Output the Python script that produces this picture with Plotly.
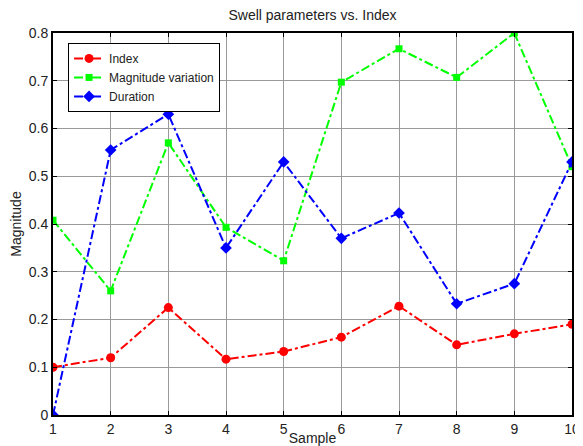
import plotly.graph_objects as go

samples = [1, 2, 3, 4, 5, 6, 7, 8, 9, 10]
index_vals = [0.100, 0.120, 0.225, 0.117, 0.133, 0.163, 0.228, 0.147, 0.170, 0.190]
magvar_vals = [0.408, 0.260, 0.570, 0.393, 0.323, 0.697, 0.767, 0.707, 0.800, 0.520]
duration_vals = [0.000, 0.555, 0.630, 0.350, 0.530, 0.370, 0.423, 0.233, 0.275, 0.530]
y_ticks = [0, 0.1, 0.2, 0.3, 0.4, 0.5, 0.6, 0.7, 0.8]
y_tick_text = ["0", "0.1", "0.2", "0.3", "0.4", "0.5", "0.6", "0.7", "0.8"]

fig = go.Figure()
fig.add_trace(go.Scatter(x=samples, y=index_vals, name="Index", mode="lines+markers",
                         line=dict(color="#ff0000", width=2, dash="dashdot"),
                         marker=dict(symbol="circle", size=9, color="#ff0000")))
fig.add_trace(go.Scatter(x=samples, y=magvar_vals, name="Magnitude variation", mode="lines+markers",
                         line=dict(color="#00ff00", width=2, dash="dashdot"),
                         marker=dict(symbol="square", size=7, color="#00ff00")))
fig.add_trace(go.Scatter(x=samples, y=duration_vals, name="Duration", mode="lines+markers",
                         line=dict(color="#0000ff", width=2, dash="dashdot"),
                         marker=dict(symbol="diamond", size=9, color="#0000ff")))

# The page body has an 8px margin, so the figure is drawn offset by 8px.
fig.update_layout(
    width=575, height=438,
    margin=dict(l=45, r=11, t=25, b=31),
    paper_bgcolor="white", plot_bgcolor="white",
    font=dict(family="Liberation Sans, Arial", size=12, color="#222222"),
    title=dict(text="Swell parameters vs. Index", x=0.5, xref="paper", xanchor="center",
               yref="container", y=0.984, yanchor="middle",
               font=dict(size=14, color="#222222")),
    legend=dict(x=0.029, y=0.974, xanchor="left", yanchor="top", bgcolor="white",
                bordercolor="black", borderwidth=1, font=dict(size=12, color="#222222"),
                itemwidth=30, tracegroupgap=0),
    xaxis=dict(range=[1, 10], tickvals=samples, showgrid=True, gridcolor="#9a9a9a", gridwidth=1,
               showline=True, linecolor="black", linewidth=2, mirror="ticks",
               ticks="inside", ticklen=4, tickcolor="black", zeroline=False,
               automargin=False,
               tickfont=dict(size=14, color="#222222"),
               title=dict(text="Sample", standoff=6, font=dict(size=14, color="#222222"))),
    yaxis=dict(range=[0, 0.8], tickvals=y_ticks, ticktext=y_tick_text, showgrid=True,
               gridcolor="#9a9a9a", gridwidth=1,
               showline=True, linecolor="black", linewidth=2, mirror="ticks",
               ticks="inside", ticklen=4, tickcolor="black", zeroline=False,
               automargin=False,
               tickfont=dict(size=14, color="#222222"),
               title=dict(text="Magnitude", standoff=4, font=dict(size=14, color="#222222"))),
)

fig.write_html("out.html")
